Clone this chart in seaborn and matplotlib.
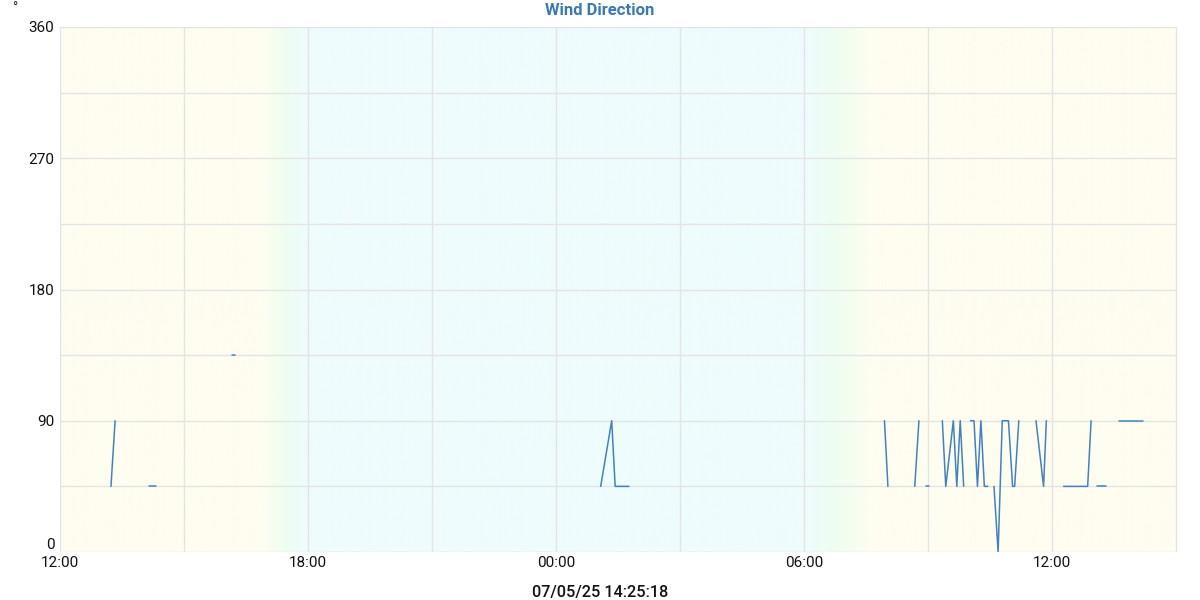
import numpy as np
import pandas as pd
import matplotlib
matplotlib.use("Agg")
import matplotlib.pyplot as plt
import matplotlib.dates as mdates
from matplotlib.colors import to_rgb
import seaborn as sns

# readings (time, degrees); None marks a gap in the record
times = ["07-04 13:14", "07-04 13:20", None,
         "07-04 14:09", "07-04 14:19", None,
         "07-04 16:10", "07-04 16:14", None,
         "07-05 01:05", "07-05 01:21", "07-05 01:26", "07-05 01:46", None,
         "07-05 07:57", "07-05 08:02", None,
         "07-05 08:41", "07-05 08:47", None,
         "07-05 08:57", "07-05 09:02", None,
         "07-05 09:21", "07-05 09:26", "07-05 09:37", "07-05 09:42", "07-05 09:47", "07-05 09:52", None,
         "07-05 10:02", "07-05 10:07", "07-05 10:12", "07-05 10:17", "07-05 10:22", "07-05 10:27", None,
         "07-05 10:36", "07-05 10:42", "07-05 10:48", "07-05 10:57", "07-05 11:03", "07-05 11:06", "07-05 11:12", None,
         "07-05 11:37", "07-05 11:48", "07-05 11:52", None,
         "07-05 12:17", "07-05 12:52", "07-05 12:57", None,
         "07-05 13:06", "07-05 13:18", None,
         "07-05 13:37", "07-05 14:13"]
direction = [45, 90, None,
             45, 45, None,
             135, 135, None,
             45, 90, 45, 45, None,
             90, 45, None,
             45, 90, None,
             45, 45, None,
             90, 45, 90, 45, 90, 45, None,
             90, 90, 45, 90, 45, 45, None,
             45, 0, 90, 90, 45, 45, 90, None,
             90, 45, 90, None,
             45, 45, 90, None,
             45, 45, None,
             90, 90]

y_ticks = [0, 90, 180, 270, 360]
title = "Wind Direction"
stamp = "07/05/25 14:25:18"

start = pd.Timestamp("2025-07-04 12:00")
end = pd.Timestamp("2025-07-05 15:02")
sunset = ("2025-07-04 16:53", "2025-07-04 17:56")
sunrise = ("2025-07-05 06:01", "2025-07-05 07:36")

# split into segments at the gaps
rows = []
seg = 0
for t, d in zip(times, direction):
    if t is None:
        seg += 1
        continue
    rows.append({"time": pd.Timestamp("2025-" + t), "deg": d, "seg": seg})
df = pd.DataFrame(rows)

sns.set_style("white")
plt.rcParams["font.family"] = ["Roboto", "DejaVu Sans"]

fig = plt.figure(figsize=(12, 6), dpi=100)
ax = fig.add_axes([0.05, 0.08, 0.931, 0.875])

# day / night background
day = np.array(to_rgb("#fefdf0"))
mid = np.array(to_rgb("#effef0"))
night = np.array(to_rgb("#eefcfd"))
x0, x1 = mdates.date2num(start), mdates.date2num(end)
xs = np.linspace(x0, x1, 1200)
ss = [mdates.date2num(pd.Timestamp(s)) for s in sunset]
sr = [mdates.date2num(pd.Timestamp(s)) for s in sunrise]
cols = np.zeros((1, len(xs), 3))
for i, x in enumerate(xs):
    if x < ss[0] or x > sr[1]:
        c = day
    elif ss[1] <= x <= sr[0]:
        c = night
    else:
        if x < ss[1]:
            f = (x - ss[0]) / (ss[1] - ss[0])
        else:
            f = 1 - (x - sr[0]) / (sr[1] - sr[0])
        if f < 0.5:
            c = day + (mid - day) * (f / 0.5)
        else:
            c = mid + (night - mid) * ((f - 0.5) / 0.5)
    cols[0, i] = c
ax.imshow(cols, extent=[x0, x1, 0, 360], aspect="auto", zorder=0)

sns.lineplot(data=df, x="time", y="deg", units="seg", estimator=None,
             color="#4382be", linewidth=1.1, ax=ax, zorder=3)

ax.set_xlim(start, end)
ax.set_ylim(0, 360)
ax.set_yticks(y_ticks)
ax.set_yticks([45, 135, 225, 315], minor=True)
ax.xaxis.set_major_locator(mdates.HourLocator(byhour=[0, 6, 12, 18]))
ax.xaxis.set_minor_locator(mdates.HourLocator(byhour=[3, 9, 15, 21]))
ax.xaxis.set_major_formatter(mdates.DateFormatter("%H:%M"))
ax.grid(True, which="both", color="#e4e4e4", linewidth=1, zorder=1)
ax.set_axisbelow(False)
for sp in ax.spines.values():
    sp.set_visible(False)
ax.tick_params(which="both", length=0, labelsize=11, colors="#111111")
ax.tick_params(axis="x", pad=3)
ax.tick_params(axis="y", pad=4)
ax.set_xlabel("")
ax.set_ylabel("")
ax.get_yticklabels()[0].set_va("bottom")

fig.text(0.5, 0.982, title, ha="center", va="center", fontsize=12,
         fontweight="bold", color="#3a78b5")
fig.text(0.01, 0.978, "°", ha="left", va="baseline", fontsize=10)
fig.text(0.5, 0.013, stamp, ha="center", va="center", fontsize=11.7,
         fontweight="medium", color="#111111")

fig.savefig("out.png", dpi=100)
